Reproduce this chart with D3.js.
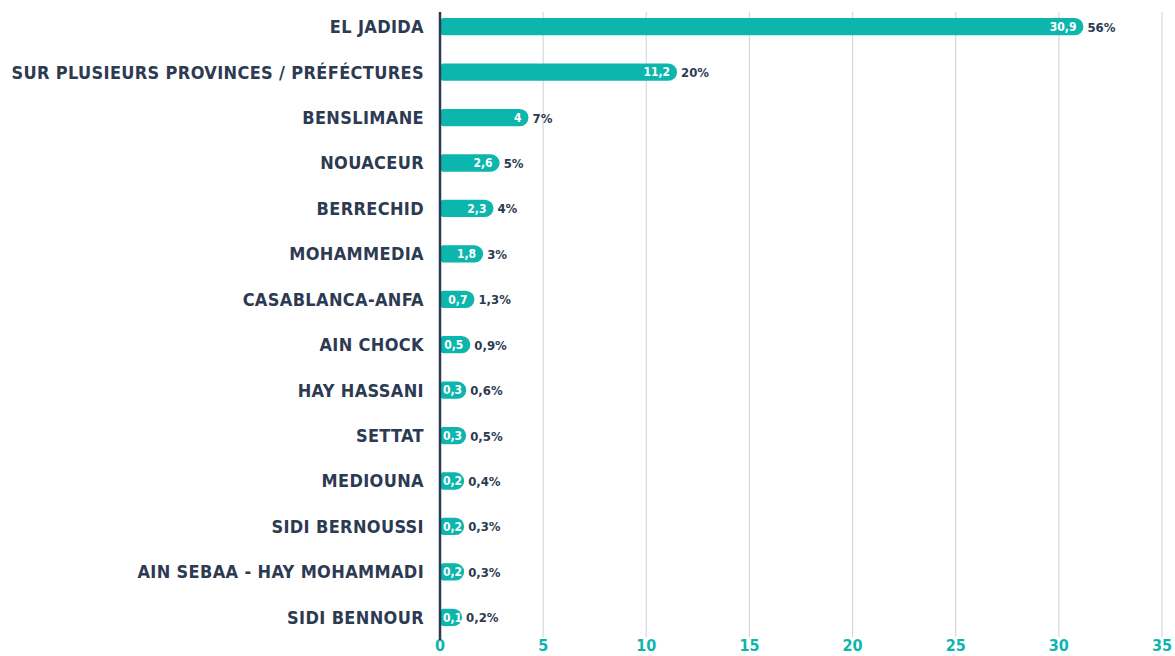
<!DOCTYPE html>
<html>
<head>
<meta charset="utf-8">
<script src="https://cdn.jsdelivr.net/npm/d3@7"></script>
<style>
  body { margin: 0; background: #fff; }
  svg text { font-family: "DejaVu Sans Condensed", "DejaVu Sans", sans-serif; font-weight: bold; }
</style>
</head>
<body>
<svg id="chart" width="1175" height="656"></svg>
<script>
// Data
const categories = [
  "EL JADIDA", "SUR PLUSIEURS PROVINCES / PRÉFÉCTURES", "BENSLIMANE", "NOUACEUR",
  "BERRECHID", "MOHAMMEDIA", "CASABLANCA-ANFA", "AIN CHOCK", "HAY HASSANI",
  "SETTAT", "MEDIOUNA", "SIDI BERNOUSSI", "AIN SEBAA - HAY MOHAMMADI", "SIDI BENNOUR"
];
const values = [30.9, 11.2, 4, 2.6, 2.3, 1.8, 0.7, 0.5, 0.3, 0.3, 0.2, 0.2, 0.2, 0.1];
const shares = ["56%", "20%", "7%", "5%", "4%", "3%", "1,3%", "0,9%", "0,6%", "0,5%", "0,4%", "0,3%", "0,3%", "0,2%"];
const xTicks = [0, 5, 10, 15, 20, 25, 30, 35];

const teal = "#0db6ad";
const navy = "#2c3a52";
const fmt = v => String(v).replace(".", ",");

const svg = d3.select("#chart");
const margin = { top: 4, right: 12, bottom: 16, left: 440 };
const width = +svg.attr("width");
const height = +svg.attr("height");

const x = d3.scaleLinear().domain([0, 35]).range([margin.left, width - 13]);
const y = d3.scaleBand().domain(categories).range([margin.top, height - margin.bottom]).paddingInner(0.62).paddingOuter(0.31);

// gridlines
svg.append("g")
  .selectAll("line")
  .data(xTicks.slice(1))
  .join("line")
  .attr("x1", d => x(d)).attr("x2", d => x(d))
  .attr("y1", 12).attr("y2", 637)
  .attr("stroke", "#d5d7dc")
  .attr("stroke-width", 1.2);

// x tick labels
svg.append("g")
  .selectAll("text")
  .data(xTicks)
  .join("text")
  .attr("x", d => x(d))
  .attr("y", 651)
  .attr("text-anchor", "middle")
  .attr("fill", teal)
  .style("font-size", "16px")
  .text(d => d);

// category labels
svg.append("g")
  .selectAll("text")
  .data(categories)
  .join("text")
  .attr("x", 424)
  .attr("y", d => y(d) + y.bandwidth() / 2)
  .attr("dy", "0.36em")
  .attr("text-anchor", "end")
  .attr("fill", navy)
  .style("font-size", "18px")
  .style("letter-spacing", "0.35px")
  .text(d => d);

// bars: small bars get extra room so the pill stays readable
const barW = v => {
  const w = x(v) - x(0);
  return w + (w < 20 ? 20 : 6);
};

const rows = svg.append("g")
  .selectAll("g")
  .data(categories)
  .join("g")
  .attr("transform", d => `translate(0,${y(d)})`);

const bh = y.bandwidth();
rows.append("path")
  .attr("fill", teal)
  .attr("d", (d, i) => {
    const x0 = x(0) + 1, x1 = x(0) + barW(values[i]), r = bh / 2;
    return `M${x0 + 2},0 H${x1 - r} A${r},${r} 0 0 1 ${x1 - r},${bh} H${x0 + 2} Q${x0},${bh} ${x0},${bh - 2} V2 Q${x0},0 ${x0 + 2},0 Z`;
  });

rows.append("text")
  .attr("x", function (d, i) { return x(0) + barW(values[i]) - 7; })
  .attr("y", bh / 2)
  .attr("dy", "0.36em")
  .attr("text-anchor", "end")
  .attr("fill", "#fff")
  .style("font-size", "12px")
  .text((d, i) => fmt(values[i]))
  .each(function (d, i) {
    const tw = this.getComputedTextLength();
    const minEnd = x(0) + 3 + tw;
    if (+this.getAttribute("x") < minEnd) d3.select(this).attr("x", minEnd);
  });

rows.append("text")
  .attr("x", (d, i) => x(0) + barW(values[i]) + 4)
  .attr("y", bh / 2)
  .attr("dy", "0.38em")
  .attr("fill", navy)
  .style("font-size", "13px")
  .text((d, i) => shares[i]);

// y axis line
svg.append("line")
  .attr("x1", x(0)).attr("x2", x(0))
  .attr("y1", 12).attr("y2", 640)
  .attr("stroke", navy)
  .attr("stroke-width", 2.5);
</script>
</body>
</html>
